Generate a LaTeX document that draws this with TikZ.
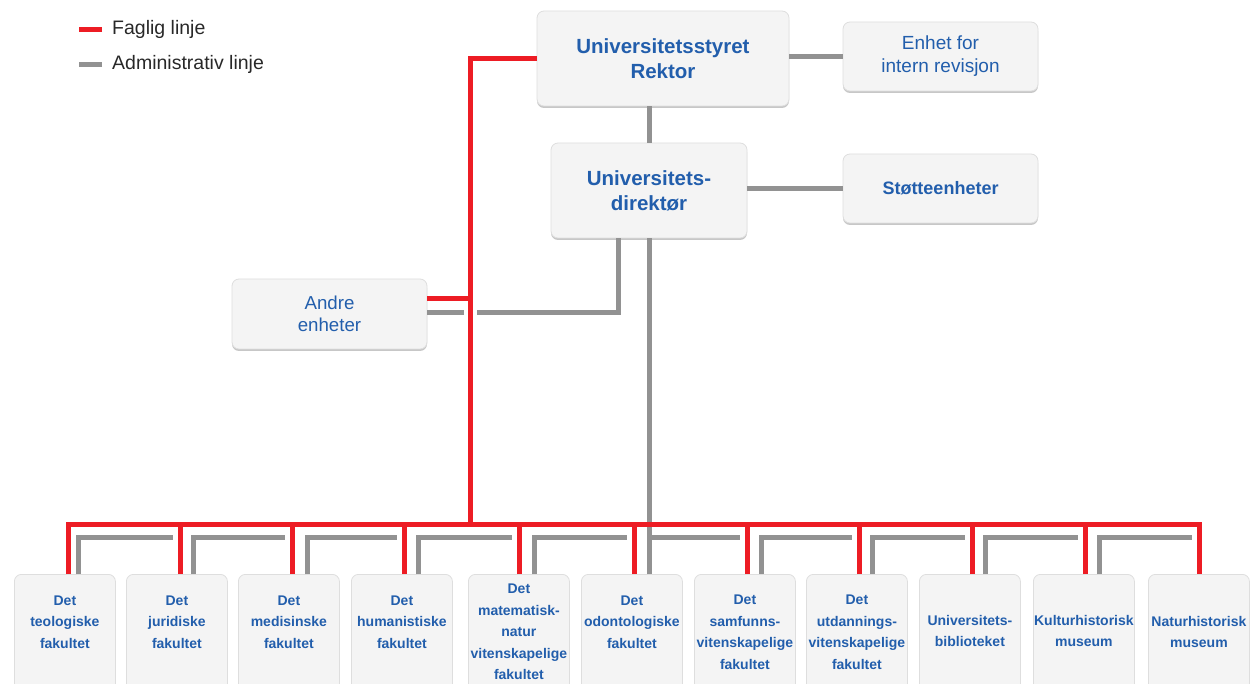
\documentclass[tikz,border=0pt]{standalone}
\usepackage{fontspec}
\setmainfont{Liberation Sans}
\usetikzlibrary{calc,shadows}
\definecolor{redline}{RGB}{237,28,36}
\definecolor{grayline}{RGB}{146,146,146}
\definecolor{boxfill}{RGB}{244,244,244}
\definecolor{boxedge}{RGB}{222,222,222}
\definecolor{txtblue}{RGB}{34,94,172}
\definecolor{legtxt}{RGB}{40,40,40}
\begin{document}
\begin{tikzpicture}[x=1pt,y=-1pt,
  orgbox/.style={draw=boxedge, line width=0.8pt, fill=boxfill, rounded corners=7pt,
    drop shadow={shadow xshift=0pt, shadow yshift=-2pt, opacity=0.22, fill=black},
    text=txtblue, align=center, inner sep=0pt},
  redl/.style={draw=redline, line width=5pt},
  grayl/.style={draw=grayline, line width=5pt},
  lab/.style={text=txtblue, align=center, inner sep=0pt, font=\fontsize{14}{21.5}\selectfont\bfseries},
  legendtxt/.style={text=legtxt, anchor=west, inner sep=0pt, font=\fontsize{19.5}{22}\selectfont}
]
\useasboundingbox (0,0) rectangle (1250,684);
\clip (0,0) rectangle (1250,684);

% top boxes
\node[orgbox, minimum width=252pt, minimum height=95pt, font=\fontsize{20.5}{25}\selectfont\bfseries] (rek) at (663,58.5) {Universitetsstyret\\Rektor};
\node[orgbox, minimum width=195pt, minimum height=69pt, font=\fontsize{19}{23}\selectfont] (enh) at (940.5,56.5) {Enhet for\\intern revisjon};
\node[orgbox, minimum width=196pt, minimum height=95pt, font=\fontsize{20.5}{25}\selectfont\bfseries] (dir) at (649,190.5) {Universitets-\\direktør};
\node[orgbox, minimum width=195pt, minimum height=69pt, font=\fontsize{18}{22}\selectfont\bfseries] (sto) at (940.5,188.5) {Støtteenheter};
\node[orgbox, minimum width=195pt, minimum height=70pt, font=\fontsize{18.7}{22}\selectfont] (and) at (329.5,314) {Andre\\enheter};

% bottom boxes
\foreach \i/\L in {1/14,2/126,3/238,4/351,5/468,6/581,7/694,8/806,9/919,10/1033,11/1148}
  \node[orgbox, minimum width=101pt, minimum height=124pt, anchor=north west] (b\i) at (\L,574) {};

\node[lab] (l1) at (b1.north |- 0,622) {Det\\teologiske\\fakultet};
\node[lab] (l2) at (b2.north |- 0,622) {Det\\juridiske\\fakultet};
\node[lab] (l3) at (b3.north |- 0,622) {Det\\medisinske\\fakultet};
\node[lab] (l4) at (b4.north |- 0,622) {Det\\humanistiske\\fakultet};
\node[lab] (l5) at (b5.north |- 0,632) {Det\\matematisk-\\natur\\vitenskapelige\\fakultet};
\node[lab] (l6) at (b6.north |- 0,622) {Det\\odontologiske\\fakultet};
\node[lab] (l7) at (b7.north |- 0,632) {Det\\samfunns-\\vitenskapelige\\fakultet};
\node[lab] (l8) at (b8.north |- 0,632) {Det\\utdannings-\\vitenskapelige\\fakultet};
\node[lab] (l9) at (b9.north |- 0,631) {Universitets-\\biblioteket};
\node[lab] (l10) at (b10.north |- 0,631) {Kulturhistorisk\\museum};
\node[lab] (l11) at (b11.north |- 0,632) {Naturhistorisk\\museum};

% drop points on the bottom boxes
\foreach \i/\R/\G in {1/68/78,2/180/193,3/292/307,4/404/418,5/519/534,6/634/649,7/747/761,8/859/872,9/972/985,10/1085/1099,11/1199/1199}{
  \coordinate (r\i) at (\R,574);
  \coordinate (g\i) at (\G,574);
}
\coordinate (rj) at (470,524);
\coordinate (gb) at (0,537);
\coordinate (aR) at ([yshift=15pt]and.east);
\coordinate (aG) at ([yshift=1pt]and.east);
\coordinate (dA) at ([xshift=-31pt]dir.south);

% administrative (gray) lines
\draw[grayl] (dir.north) -- (dir.north |- rek.south);
\draw[grayl] (enh.west -| rek.east) -- (enh.west);
\draw[grayl] (sto.west -| dir.east) -- (sto.west);
\draw[grayl] (dir.south) -- (g6);
\draw[grayl] (dA) |- ($(aG -| rj)+(7,0)$);
\draw[grayl] ($(aG -| rj)+(-6,0)$) -- (aG);
\foreach \i/\j in {1/2,2/3,3/4,4/5,5/6,6/7,7/8,8/9,9/10,10/11}
  \draw[grayl] (g\i) |- ($(r\j |- gb)+(-7.5,0)$);

% academic (red) lines
\draw[redl] (rek.west) -| (rj);
\draw[redl] (aR) -- (aR -| rj);
\draw[redl] (r1) -- (r1 |- rj) -- (r11 |- rj) -- (r11);
\foreach \i in {2,...,10}
  \draw[redl] (r\i) -- (r\i |- rj);

% legend
\node[legendtxt] (lg1) at (112,29.5) {Faglig linje};
\node[legendtxt] (lg2) at (112,64.5) {Administrativ linje};
\draw[redl] ([xshift=-10pt]lg1.west) -- ++(-23,0);
\draw[grayl] ([xshift=-10pt]lg2.west) -- ++(-23,0);
\end{tikzpicture}
\end{document}
